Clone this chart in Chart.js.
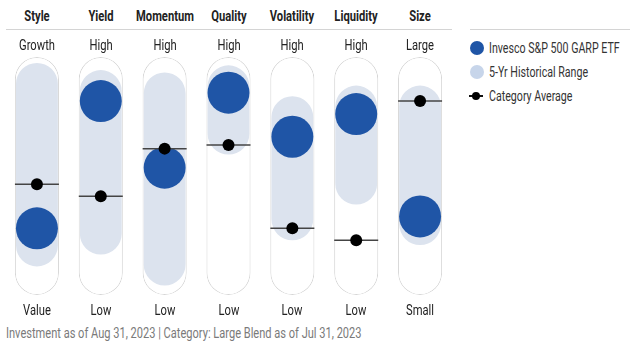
<!DOCTYPE html>
<html>
<head>
<meta charset="utf-8">
<script src="https://cdn.jsdelivr.net/npm/chart.js@4"></script>
<style>
  html,body{margin:0;padding:0;background:#fff;}
  body{width:630px;height:353px;position:relative;overflow:hidden;font-family:'Roboto',sans-serif;color:#222;}
  #wrap{position:absolute;left:0;top:47px;width:457px;height:258px;}
  .lbl{position:absolute;transform:translateX(-50%) scaleX(0.8);white-space:nowrap;font-size:14px;line-height:16px;}
  .hdr{font-weight:bold;top:8px;}
  .top{top:37px;}
  .bot{top:302px;}
  .rule{position:absolute;height:1px;background:#d4d4d4;top:29px;}
  #foot{position:absolute;left:6px;top:325px;font-size:14px;line-height:16px;color:#7a7a7a;white-space:nowrap;transform:scaleX(0.79);transform-origin:left center;}
  .leg{position:absolute;left:489px;font-size:14px;line-height:16px;color:#333;white-space:nowrap;transform:scaleX(0.76);transform-origin:left center;}
  .sw{position:absolute;border-radius:50%;}
</style>
</head>
<body>
<div id="wrap"><canvas id="c"></canvas></div>
<div class="rule" style="left:6px;width:446px;"></div>
<div class="rule" style="left:470px;width:160px;"></div>
<div id="labels"></div>

<div class="sw" style="left:470px;top:41px;width:14px;height:14px;background:#1f55a6;"></div>
<div class="leg" style="top:40px;">Invesco S&amp;P 500 GARP ETF</div>
<div class="sw" style="left:470px;top:65px;width:14px;height:14px;background:#c7d5ea;"></div>
<div class="leg" style="top:64px;">5-Yr Historical Range</div>
<div style="position:absolute;left:469px;top:95px;width:14px;height:2px;background:#111;"></div>
<div class="sw" style="left:472px;top:92px;width:8px;height:8px;background:#000;"></div>
<div class="leg" style="top:88px;">Category Average</div>

<div id="foot">Investment as of Aug 31, 2023 | Category: Large Blend as of Jul 31, 2023</div>

<script>
const factors = ['Style','Yield','Momentum','Quality','Volatility','Liquidity','Size'];
const highLabels = ['Growth','High','High','High','High','High','Large'];
const lowLabels = ['Value','Low','Low','Low','Low','Low','Small'];
const rangeLow = [12, 17, 4, 59, 23, 38, 21];
const rangeHigh = [97.5, 94.5, 93.5, 96.5, 83.5, 88, 88];
const fundValue = [28, 81.5, 53.5, 85, 66.5, 76, 33];
const categoryAvg = [46.5, 41.5, 61.5, 63, 28, 23, 81.5];

const chart = new Chart(document.getElementById('c'), {
  type:'bar',
  data:{
    labels: factors,
    datasets:[
      {label:'track', data: factors.map(()=>[0,100]), backgroundColor:'#ffffff', borderColor:'#d6d6d6', borderWidth:1,
        borderRadius:22, borderSkipped:false, grouped:false, categoryPercentage:1, barPercentage:0.69, order:5},
      {label:'5-Yr Historical Range', data: rangeLow.map((v,i)=>[v,rangeHigh[i]]), backgroundColor:'#dce3ee', borderWidth:0,
        borderRadius:21, borderSkipped:false, grouped:false, categoryPercentage:1, barPercentage:0.655, order:4},
      {type:'line', label:'Invesco S&P 500 GARP ETF', data: fundValue, showLine:false, pointRadius:21, pointHoverRadius:21,
        pointBackgroundColor:'#1f55a6', pointBorderWidth:0, clip:false, order:3},
      {type:'line', label:'avg line', data: categoryAvg, showLine:false, pointStyle:'line', pointRadius:22, pointHoverRadius:22,
        pointBorderColor:'#444', pointBorderWidth:1.5, clip:false, order:2},
      {type:'line', label:'Category Average', data: categoryAvg, showLine:false, pointRadius:6, pointHoverRadius:6,
        pointBackgroundColor:'#000', pointBorderWidth:0, clip:false, order:1},
    ]
  },
  options:{
    responsive:true, maintainAspectRatio:false, animation:false,
    layout:{autoPadding:false, padding:{top:10,bottom:10,left:5,right:5}},
    plugins:{legend:{display:false}, tooltip:{enabled:false}},
    scales:{
      x:{display:false, offset:true},
      y:{display:false, min:0, max:100}
    }
  }
});

// column texts follow the category scale so they sit over each pill
const labelsEl = document.getElementById('labels');
factors.forEach((f,i)=>{
  const x = chart.scales.x.getPixelForValue(i);
  [['hdr',f],['top',highLabels[i]],['bot',lowLabels[i]]].forEach(([cls,t])=>{
    const d = document.createElement('div');
    d.className = 'lbl '+cls;
    d.style.left = x+'px';
    d.textContent = t;
    labelsEl.appendChild(d);
  });
});
</script>
</body>
</html>
